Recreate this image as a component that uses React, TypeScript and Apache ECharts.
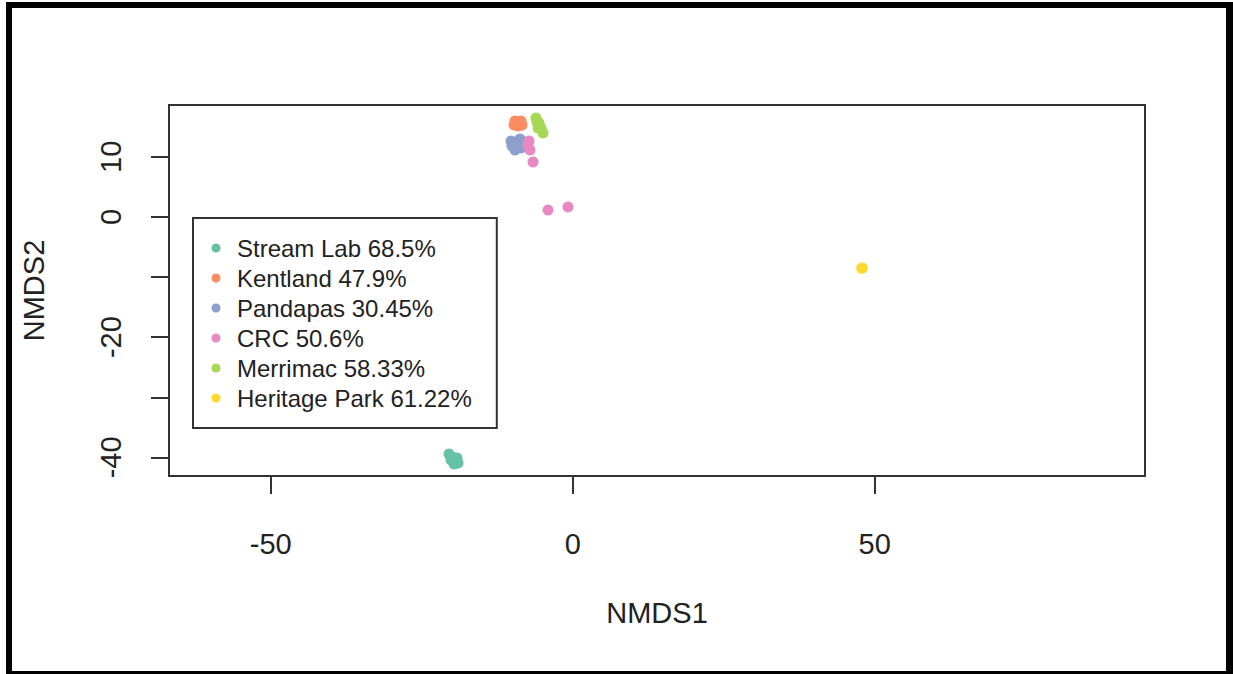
import React, { useEffect, useRef } from "react";
import * as echarts from "echarts";

// ---- data ----
const seriesNames = [
  "Stream Lab 68.5%",
  "Kentland 47.9%",
  "Pandapas 30.45%",
  "CRC 50.6%",
  "Merrimac 58.33%",
  "Heritage Park 61.22%",
];
const seriesColors = ["#66C2A5", "#FC8D62", "#8DA0CB", "#E78AC3", "#A6D854", "#FFD92F"];

const streamLab: [number, number][] = [
  [-20.48, -39.45], [-19.98, -39.95], [-19.49, -40.62], [-18.99, -40.95],
  [-19.65, -41.11], [-20.15, -40.45], [-19.16, -40.11],
];
const kentland: [number, number][] = [
  [-9.55, 15.96], [-8.56, 15.96], [-9.06, 15.12], [-9.72, 15.29], [-8.39, 15.29],
];
const pandapas: [number, number][] = [
  [-10.05, 11.8], [-9.22, 12.13], [-8.72, 12.96], [-9.55, 11.13], [-8.56, 11.46], [-10.22, 12.63],
];
const crc: [number, number][] = [
  [-7.24, 12.63], [-7.07, 11.13], [-6.57, 9.13], [-7.4, 11.8], [-4.09, 1.15], [-0.78, 1.65],
];
const merrimac: [number, number][] = [
  [-6.08, 16.46], [-5.58, 15.63], [-5.25, 14.79], [-4.92, 13.96], [-5.74, 14.79], [-5.91, 15.79],
];
const heritagePark: [number, number][] = [
  [47.85, -8.55], [47.95, -8.5],
];
const seriesData = [streamLab, kentland, pandapas, crc, merrimac, heritagePark];

const xTicks = [-50, 0, 50];
const yTicks = [-40, -30, -20, -10, 0, 10];
const yLabels = [-40, -20, 0, 10];
const xRange = [-66.84, 94.75];
const yRange = [-43.1, 18.62];

const FONT = "'Liberation Sans', Arial, sans-serif";
const INK = "#222";
const LINE = "#333";

export default function App() {
  const ref = useRef<HTMLDivElement>(null);

  useEffect(() => {
    if (!ref.current) return;
    const chart = echarts.init(ref.current, undefined, { renderer: "svg" });
    const option: any = {
      animation: false,
      backgroundColor: "#ffffff",
      textStyle: { fontFamily: FONT },
      grid: {
        left: 169,
        right: 88,
        top: 105,
        bottom: 198,
        show: true,
        borderColor: LINE,
        borderWidth: 2,
        backgroundColor: "transparent",
      },
      xAxis: {
        type: "value",
        min: xRange[0],
        max: xRange[1],
        name: "NMDS1",
        nameLocation: "middle",
        nameGap: 122,
        nameTextStyle: { fontSize: 29, color: INK, fontFamily: FONT },
        axisLine: { show: true, onZero: false, lineStyle: { color: LINE, width: 2 } },
        axisTick: { show: true, length: 18, customValues: xTicks, lineStyle: { color: LINE, width: 2 } },
        axisLabel: {
          customValues: xTicks,
          fontSize: 29,
          color: INK,
          fontFamily: FONT,
          margin: 53,
        },
        splitLine: { show: false },
      },
      yAxis: {
        type: "value",
        min: yRange[0],
        max: yRange[1],
        name: "NMDS2",
        nameLocation: "middle",
        nameGap: 121,
        nameTextStyle: { fontSize: 29, color: INK, fontFamily: FONT },
        axisLine: { show: true, onZero: false, lineStyle: { color: LINE, width: 2 } },
        axisTick: { show: true, length: 18, customValues: yTicks, lineStyle: { color: LINE, width: 2 } },
        axisLabel: {
          customValues: yLabels,
          rotate: 90,
          fontSize: 29,
          color: INK,
          fontFamily: FONT,
          margin: 44,
        },
        splitLine: { show: false },
      },
      legend: {
        orient: "vertical",
        left: 193,
        top: 218,
        icon: "circle",
        itemWidth: 32,
        itemHeight: 9,
        itemGap: 6,
        padding: [18, 25, 18, 18.5],
        borderColor: LINE,
        borderWidth: 2,
        backgroundColor: "#ffffff",
        textStyle: { fontSize: 24, color: INK, fontFamily: FONT },
        data: seriesNames,
        selectedMode: false,
      },
      series: seriesNames.map((name, i) => ({
        name,
        type: "scatter",
        data: seriesData[i],
        symbol: "circle",
        symbolSize: 11,
        itemStyle: { color: seriesColors[i], opacity: 1 },
        emphasis: { disabled: true },
      })),
      graphic: [
        { type: "rect", shape: { x: 6, y: 2, width: 1227, height: 6 }, style: { fill: "#000" }, z: 100 },
        { type: "rect", shape: { x: 6, y: 2, width: 6, height: 672 }, style: { fill: "#000" }, z: 100 },
        { type: "rect", shape: { x: 1226, y: 2, width: 7, height: 672 }, style: { fill: "#000" }, z: 100 },
        { type: "rect", shape: { x: 6, y: 671, width: 1227, height: 3 }, style: { fill: "#000" }, z: 100 },
      ],
    };
    chart.setOption(option);
    return () => chart.dispose();
  }, []);

  return (
    <div
      ref={ref}
      style={{ position: "fixed", left: 0, top: 0, width: 1233, height: 674, background: "#fff" }}
    />
  );
}
